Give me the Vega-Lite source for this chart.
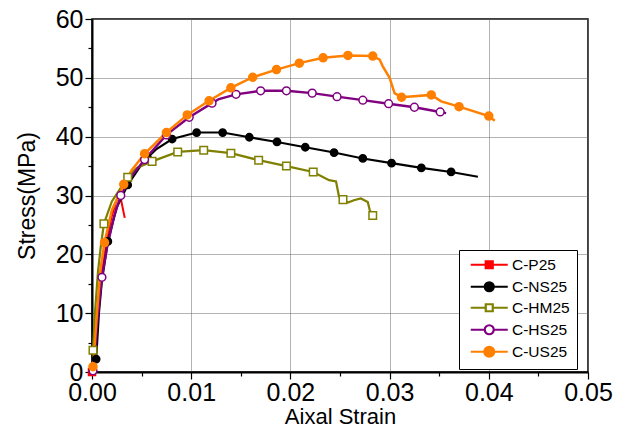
{
  "$schema": "https://vega.github.io/schema/vega-lite/v6.json",
  "width": 496,
  "height": 353,
  "autosize": {"type": "none"},
  "padding": {"left": 92, "top": 19, "right": 42, "bottom": 58},
  "background": "white",
  "config": {
    "view": {"stroke": "black", "strokeWidth": 1.5},
    "font": "Liberation Sans"
  },
  "data": {
    "values": [
      {"s":"C-P25","x":0,"y":0,"m":1},
      {"s":"C-P25","x":0.0003,"y":3,"m":0},
      {"s":"C-P25","x":0.0006,"y":11,"m":0},
      {"s":"C-P25","x":0.001,"y":17,"m":0},
      {"s":"C-P25","x":0.0015,"y":22.5,"m":0},
      {"s":"C-P25","x":0.002,"y":26.5,"m":0},
      {"s":"C-P25","x":0.0026,"y":29.8,"m":0},
      {"s":"C-P25","x":0.0029,"y":29.5,"m":0},
      {"s":"C-P25","x":0.0033,"y":26.2,"m":0},

      {"s":"C-NS25","x":0.0001,"y":0.5,"m":0},
      {"s":"C-NS25","x":0.00042,"y":2.2,"m":1},
      {"s":"C-NS25","x":0.0007,"y":10,"m":0},
      {"s":"C-NS25","x":0.001,"y":15.5,"m":0},
      {"s":"C-NS25","x":0.0016,"y":22.2,"m":1},
      {"s":"C-NS25","x":0.0025,"y":28,"m":0},
      {"s":"C-NS25","x":0.0036,"y":31.8,"m":1},
      {"s":"C-NS25","x":0.005,"y":35.3,"m":0},
      {"s":"C-NS25","x":0.0056,"y":36.4,"m":1},
      {"s":"C-NS25","x":0.0065,"y":37.9,"m":0},
      {"s":"C-NS25","x":0.00808,"y":39.6,"m":1},
      {"s":"C-NS25","x":0.01055,"y":40.7,"m":1},
      {"s":"C-NS25","x":0.01317,"y":40.7,"m":1},
      {"s":"C-NS25","x":0.01586,"y":39.9,"m":1},
      {"s":"C-NS25","x":0.01865,"y":39.1,"m":1},
      {"s":"C-NS25","x":0.0215,"y":38.2,"m":1},
      {"s":"C-NS25","x":0.0244,"y":37.3,"m":1},
      {"s":"C-NS25","x":0.0273,"y":36.3,"m":1},
      {"s":"C-NS25","x":0.0302,"y":35.5,"m":1},
      {"s":"C-NS25","x":0.0332,"y":34.7,"m":1},
      {"s":"C-NS25","x":0.0362,"y":34.0,"m":1},
      {"s":"C-NS25","x":0.0389,"y":33.2,"m":0},

      {"s":"C-HM25","x":0.0001,"y":3.7,"m":1},
      {"s":"C-HM25","x":0.0003,"y":10,"m":0},
      {"s":"C-HM25","x":0.0006,"y":17,"m":0},
      {"s":"C-HM25","x":0.0009,"y":21.5,"m":0},
      {"s":"C-HM25","x":0.0012,"y":25.2,"m":1},
      {"s":"C-HM25","x":0.002,"y":29,"m":0},
      {"s":"C-HM25","x":0.0036,"y":33.1,"m":1},
      {"s":"C-HM25","x":0.0045,"y":34.7,"m":0},
      {"s":"C-HM25","x":0.00606,"y":35.8,"m":1},
      {"s":"C-HM25","x":0.00864,"y":37.4,"m":1},
      {"s":"C-HM25","x":0.01126,"y":37.7,"m":1},
      {"s":"C-HM25","x":0.014,"y":37.2,"m":1},
      {"s":"C-HM25","x":0.0168,"y":36.0,"m":1},
      {"s":"C-HM25","x":0.0196,"y":35.0,"m":1},
      {"s":"C-HM25","x":0.0223,"y":34.0,"m":1},
      {"s":"C-HM25","x":0.0239,"y":32.6,"m":0},
      {"s":"C-HM25","x":0.0246,"y":32.4,"m":0},
      {"s":"C-HM25","x":0.0249,"y":29.8,"m":0},
      {"s":"C-HM25","x":0.0253,"y":29.3,"m":1},
      {"s":"C-HM25","x":0.0258,"y":28.8,"m":0},
      {"s":"C-HM25","x":0.0264,"y":29.2,"m":0},
      {"s":"C-HM25","x":0.0271,"y":29.5,"m":0},
      {"s":"C-HM25","x":0.0278,"y":28.9,"m":0},
      {"s":"C-HM25","x":0.028,"y":27.5,"m":0},
      {"s":"C-HM25","x":0.0283,"y":26.6,"m":1},

      {"s":"C-HS25","x":0.0001,"y":0.2,"m":1},
      {"s":"C-HS25","x":0.0003,"y":2.5,"m":0},
      {"s":"C-HS25","x":0.0005,"y":8,"m":0},
      {"s":"C-HS25","x":0.001,"y":16.1,"m":1},
      {"s":"C-HS25","x":0.0015,"y":21,"m":0},
      {"s":"C-HS25","x":0.0022,"y":26.3,"m":0},
      {"s":"C-HS25","x":0.0029,"y":30,"m":1},
      {"s":"C-HS25","x":0.004,"y":33.3,"m":0},
      {"s":"C-HS25","x":0.0053,"y":36.1,"m":1},
      {"s":"C-HS25","x":0.0075,"y":40.3,"m":1},
      {"s":"C-HS25","x":0.0098,"y":43.3,"m":1},
      {"s":"C-HS25","x":0.0121,"y":45.7,"m":1},
      {"s":"C-HS25","x":0.0128,"y":46.4,"m":0},
      {"s":"C-HS25","x":0.01452,"y":47.2,"m":1},
      {"s":"C-HS25","x":0.017,"y":47.8,"m":1},
      {"s":"C-HS25","x":0.0196,"y":47.8,"m":1},
      {"s":"C-HS25","x":0.0222,"y":47.4,"m":1},
      {"s":"C-HS25","x":0.0247,"y":46.8,"m":1},
      {"s":"C-HS25","x":0.0273,"y":46.2,"m":1},
      {"s":"C-HS25","x":0.0299,"y":45.6,"m":1},
      {"s":"C-HS25","x":0.0325,"y":45.0,"m":1},
      {"s":"C-HS25","x":0.0351,"y":44.2,"m":1},
      {"s":"C-HS25","x":0.0357,"y":44.0,"m":0},

      {"s":"C-US25","x":0.0001,"y":0.9,"m":1},
      {"s":"C-US25","x":0.0005,"y":10,"m":0},
      {"s":"C-US25","x":0.00085,"y":17.4,"m":0},
      {"s":"C-US25","x":0.00126,"y":22.0,"m":1},
      {"s":"C-US25","x":0.002,"y":27.5,"m":0},
      {"s":"C-US25","x":0.0032,"y":31.9,"m":1},
      {"s":"C-US25","x":0.004,"y":34.3,"m":0},
      {"s":"C-US25","x":0.0053,"y":37.1,"m":1},
      {"s":"C-US25","x":0.0075,"y":40.7,"m":1},
      {"s":"C-US25","x":0.0096,"y":43.7,"m":1},
      {"s":"C-US25","x":0.0118,"y":46.1,"m":1},
      {"s":"C-US25","x":0.014,"y":48.3,"m":1},
      {"s":"C-US25","x":0.0162,"y":50.1,"m":1},
      {"s":"C-US25","x":0.0186,"y":51.4,"m":1},
      {"s":"C-US25","x":0.0209,"y":52.5,"m":1},
      {"s":"C-US25","x":0.0233,"y":53.4,"m":1},
      {"s":"C-US25","x":0.0258,"y":53.8,"m":1},
      {"s":"C-US25","x":0.0283,"y":53.7,"m":1},
      {"s":"C-US25","x":0.029,"y":53.1,"m":0},
      {"s":"C-US25","x":0.0293,"y":52.0,"m":0},
      {"s":"C-US25","x":0.03,"y":50.0,"m":0},
      {"s":"C-US25","x":0.0305,"y":47.4,"m":0},
      {"s":"C-US25","x":0.0312,"y":46.7,"m":1},
      {"s":"C-US25","x":0.0342,"y":47.1,"m":1},
      {"s":"C-US25","x":0.0352,"y":46.0,"m":0},
      {"s":"C-US25","x":0.037,"y":45.1,"m":1},
      {"s":"C-US25","x":0.04,"y":43.5,"m":1},
      {"s":"C-US25","x":0.0406,"y":42.7,"m":0}
    ]
  },
  "encoding": {
    "x": {
      "field": "x", "type": "quantitative",
      "scale": {"domain": [0, 0.05], "nice": false, "zero": false},
      "axis": {
        "title": "Aixal Strain",
        "titleFontSize": 22, "titleFontWeight": "normal", "titleColor": "black", "titleFont": "Liberation Sans",
        "titlePadding": 1,
        "values": [0,0.005,0.01,0.015,0.02,0.025,0.03,0.035,0.04,0.045,0.05],
        "labelExpr": "round(datum.value*1000) % 10 != 0 ? '' : format(datum.value, '.2f')",
        "labelFontSize": 25, "labelColor": "black", "labelFont": "Liberation Sans",
        "labelPadding": 1, "labelFlush": false, "labelOverlap": false,
        "domainColor": "black", "domainWidth": 2,
        "tickColor": "black", "tickWidth": 1.2,
        "tickSize": {"condition": {"test": "round(datum.value*1000) % 10 != 0", "value": 4}, "value": 7},
        "grid": true, "gridColor": "#666666", "gridDash": [1, 1], "gridWidth": 1,
        "gridOpacity": {"condition": {"test": "round(datum.value*1000) % 10 != 0", "value": 0}, "value": 1}
      }
    },
    "y": {
      "field": "y", "type": "quantitative",
      "scale": {"domain": [0, 60], "nice": false, "zero": false},
      "axis": {
        "title": "Stress(MPa)",
        "titleFontSize": 23, "titleFontWeight": "normal", "titleColor": "black", "titleFont": "Liberation Sans",
        "titlePadding": 16,
        "values": [0,5,10,15,20,25,30,35,40,45,50,55,60],
        "labelExpr": "datum.value % 10 != 0 ? '' : datum.value",
        "labelFontSize": 25, "labelColor": "black", "labelFont": "Liberation Sans",
        "labelPadding": 2, "labelFlush": false, "labelOverlap": false,
        "domainColor": "black", "domainWidth": 2,
        "tickColor": "black", "tickWidth": 1.2,
        "tickSize": {"condition": {"test": "datum.value % 10 != 0", "value": 4}, "value": 7},
        "grid": true, "gridColor": "#666666", "gridDash": [1, 1], "gridWidth": 1,
        "gridOpacity": {"condition": {"test": "datum.value % 10 != 0", "value": 0}, "value": 1}
      }
    }
  },
  "resolve": {"scale": {"fill": "independent", "stroke": "independent", "shape": "independent"}},
  "layer": [
    {
      "transform": [{"filter": "datum.m == 1"}],
      "mark": {"type": "point", "opacity": 0},
      "encoding": {
        "fill": {
          "field": "s", "type": "nominal",
          "scale": {"domain": ["C-P25","C-NS25","C-HM25","C-HS25","C-US25"], "range": ["#ff0000","#000000","#ffffff","#ffffff","#ff8000"]},
          "legend": {
            "title": null, "orient": "none", "direction": "vertical",
            "legendX": 367, "legendY": 231, "padding": 7, "rowPadding": 3,
            "symbolSize": 100, "symbolOffset": 15.5, "symbolOpacity": 1, "symbolStrokeWidth": 2.2,
            "labelOffset": 15, "labelFontSize": 15.5, "labelFont": "Liberation Sans", "labelColor": "black",
            "strokeColor": "black", "fillColor": "white"
          }
        },
        "stroke": {
          "field": "s", "type": "nominal",
          "scale": {"domain": ["C-P25","C-NS25","C-HM25","C-HS25","C-US25"], "range": ["#ff0000","#000000","#808000","#800080","#ff8000"]},
          "legend": {
            "title": null, "orient": "none", "direction": "vertical",
            "legendX": 367, "legendY": 231, "padding": 7, "rowPadding": 3,
            "symbolSize": 100, "symbolOffset": 15.5, "symbolOpacity": 1, "symbolStrokeWidth": 2.2,
            "labelOffset": 15, "labelFontSize": 15.5, "labelFont": "Liberation Sans", "labelColor": "black",
            "strokeColor": "black", "fillColor": "white"
          }
        },
        "shape": {
          "field": "s", "type": "nominal",
          "scale": {"domain": ["C-P25","C-NS25","C-HM25","C-HS25","C-US25"], "range": [
            "M-3.7,0H-0.7M0.7,0H3.7M-0.7,-0.7H0.7V0.7H-0.7Z",
            "M-3.7,0H-0.9M0.9,0H3.7M-0.9,0A0.9,0.9,0,1,0,0.9,0A0.9,0.9,0,1,0,-0.9,0Z",
            "M-3.7,0H-0.7M0.7,0H3.7M-0.7,-0.7H0.7V0.7H-0.7Z",
            "M-3.7,0H-0.9M0.9,0H3.7M-0.9,0A0.9,0.9,0,1,0,0.9,0A0.9,0.9,0,1,0,-0.9,0Z",
            "M-3.7,0H-1M1,0H3.7M-1,0A1,1,0,1,0,1,0A1,1,0,1,0,-1,0Z"
          ]},
          "legend": {
            "title": null, "orient": "none", "direction": "vertical",
            "legendX": 367, "legendY": 231, "padding": 7, "rowPadding": 3,
            "symbolSize": 100, "symbolOffset": 15.5, "symbolOpacity": 1, "symbolStrokeWidth": 2.2,
            "labelOffset": 15, "labelFontSize": 15.5, "labelFont": "Liberation Sans", "labelColor": "black",
            "strokeColor": "black", "fillColor": "white"
          }
        }
      }
    },
    {
      "mark": {"type": "line", "interpolate": "linear"},
      "encoding": {
        "color": {
          "field": "s", "type": "nominal",
          "scale": {"domain": ["C-P25","C-NS25","C-HM25","C-HS25","C-US25"], "range": ["#ff0000","#000000","#808000","#800080","#ff8000"]},
          "legend": null
        },
        "strokeWidth": {
          "field": "s", "type": "nominal",
          "scale": {"domain": ["C-P25","C-NS25","C-HM25","C-HS25","C-US25"], "range": [2, 2.5, 2.5, 3, 3.5]},
          "legend": null
        }
      }
    },
    {
      "transform": [{"filter": "datum.m == 1"}],
      "mark": {"type": "point", "filled": false, "strokeWidth": 1.5, "opacity": 1},
      "encoding": {
        "stroke": {
          "field": "s", "type": "nominal",
          "scale": {"domain": ["C-P25","C-NS25","C-HM25","C-HS25","C-US25"], "range": ["#ff0000","#000000","#808000","#800080","#ff8000"]},
          "legend": null
        },
        "fill": {
          "field": "s", "type": "nominal",
          "scale": {"domain": ["C-P25","C-NS25","C-HM25","C-HS25","C-US25"], "range": ["#ff0000","#000000","#ffffff","#ffffff","#ff8000"]},
          "legend": null
        },
        "size": {
          "field": "s", "type": "nominal",
          "scale": {"domain": ["C-P25","C-NS25","C-HM25","C-HS25","C-US25"], "range": [49, 64, 50, 60, 85]},
          "legend": null
        },
        "shape": {
          "field": "s", "type": "nominal",
          "scale": {"domain": ["C-P25","C-NS25","C-HM25","C-HS25","C-US25"], "range": ["square","circle","square","circle","circle"]},
          "legend": null
        }
      }
    }
  ]
}
